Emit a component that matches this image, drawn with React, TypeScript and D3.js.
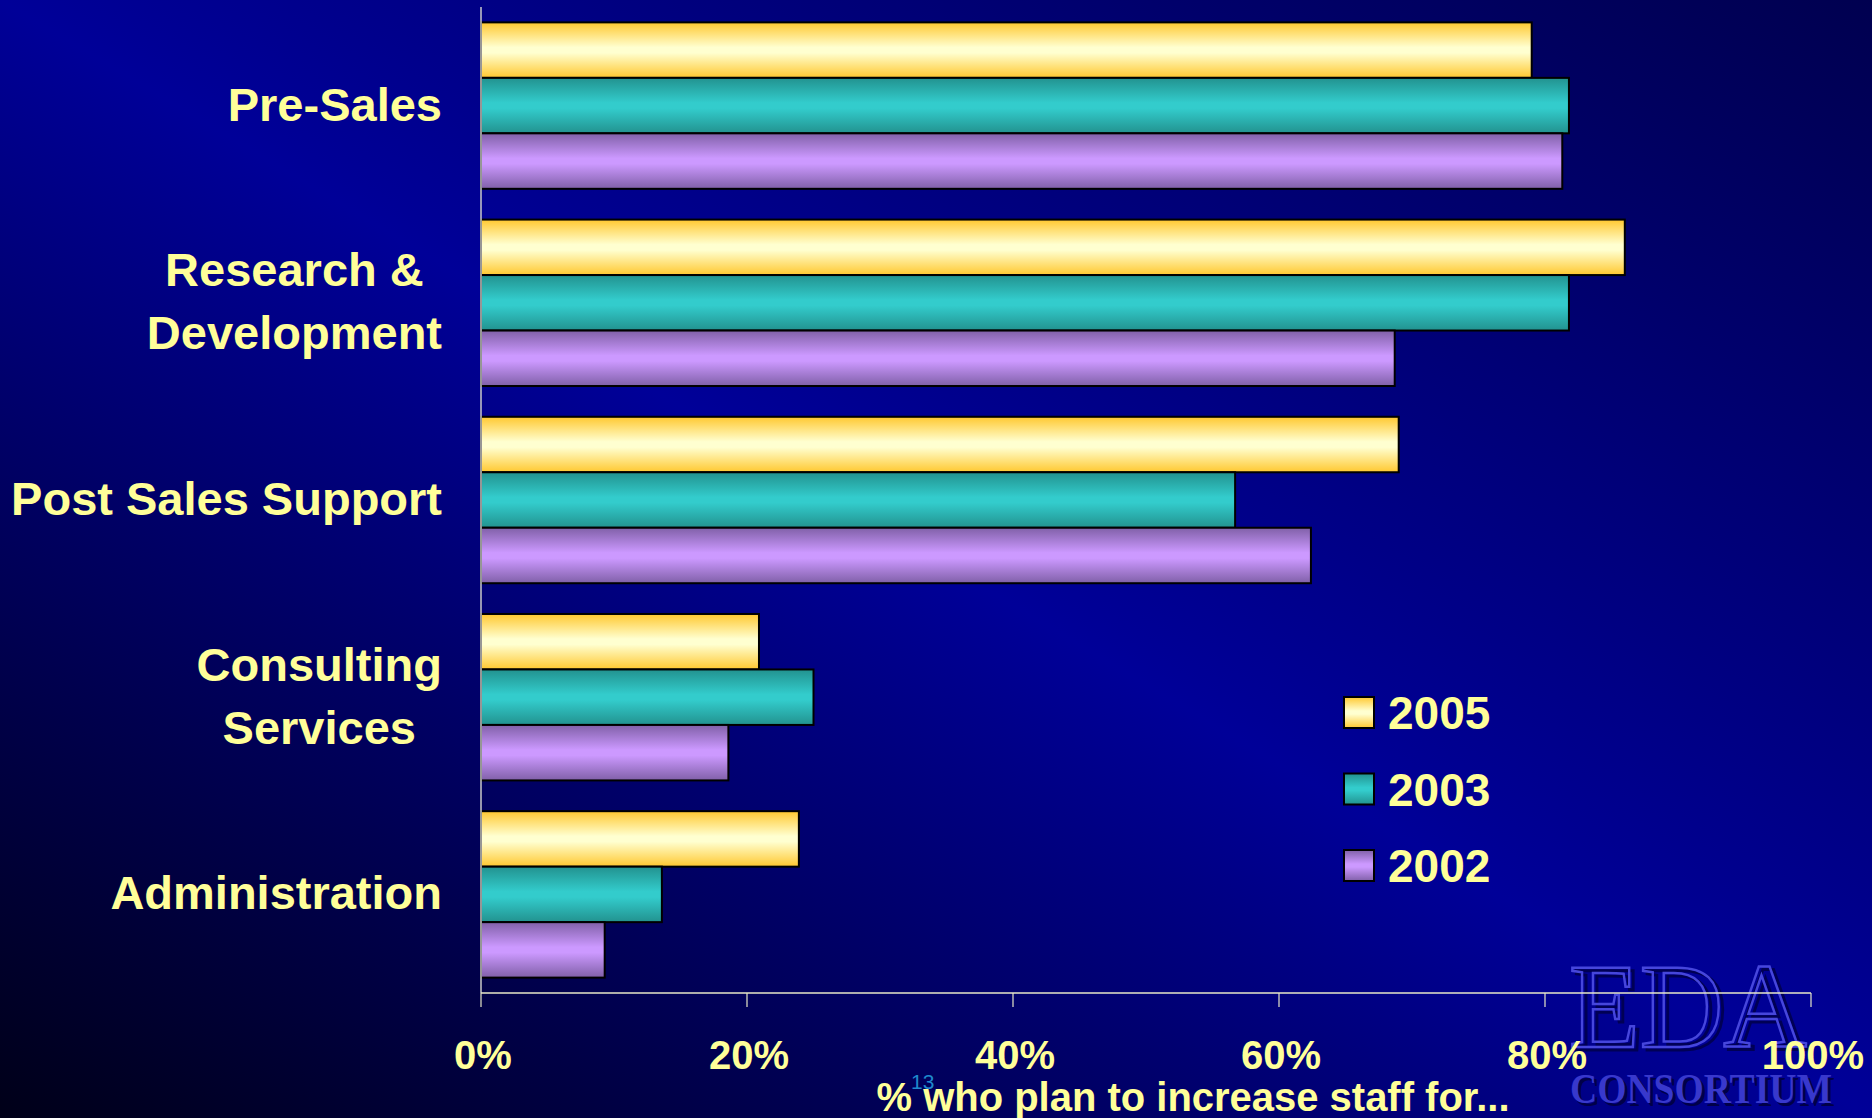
import React from "react";
import * as d3 from "d3";

const categoryLines: string[][] = [
  ["Pre-Sales"],
  ["Research &", "Development"],
  ["Post Sales Support"],
  ["Consulting", "Services"],
  ["Administration"],
];
const categories = categoryLines.map((l) => l.join(" "));
const seriesNames = ["2005", "2003", "2002"];
const values2005 = [79.0, 86.0, 69.0, 20.9, 23.9];
const values2003 = [81.8, 81.8, 56.7, 25.0, 13.6];
const values2002 = [81.3, 68.7, 62.4, 18.6, 9.3];
const seriesValues = [values2005, values2003, values2002];
const xTicks = [0, 20, 40, 60, 80, 100];
const axisTitle = "% who plan to increase staff for...";
const slideNumber = "13";

const W = 1872;
const H = 1118;
const FONT = "'Liberation Sans', Arial, sans-serif";
const SERIF = "'Liberation Serif', 'Times New Roman', serif";
const TEXT = "#FFFF99";

const grads = [
  { id: "g2005", edge: "#FFC830", mid: "#FFFFD0" },
  { id: "g2003", edge: "#22928F", mid: "#33CCCC" },
  { id: "g2002", edge: "#8060A8", mid: "#CC99FF" },
];

let ctx: CanvasRenderingContext2D | null = null;
function measure(text: string, font: string): number {
  if (!ctx) ctx = document.createElement("canvas").getContext("2d");
  if (!ctx) return text.length * 25;
  ctx.font = font;
  return ctx.measureText(text).width;
}

export default function App() {
  const x = d3.scaleLinear().domain([0, 100]).range([481, 1811]);
  const y = d3.scaleBand<string>().domain(categories).range([7, 993]).paddingInner(0.156).paddingOuter(0.078);
  const ys = d3.scaleBand<string>().domain(seriesNames).range([0, y.bandwidth()]);

  const labelRight = 442;
  const labelSize = 47;
  const lineH = 63;

  return (
    <svg width={W} height={H} style={{ position: "absolute", left: 0, top: 0, display: "block" }}>
      <defs>
        <linearGradient id="bg" x1="0" y1="1" x2="1" y2="0">
          <stop offset="0" stopColor="#000018" />
          <stop offset="0.5" stopColor="#000098" />
          <stop offset="1" stopColor="#000050" />
        </linearGradient>
        {grads.map((g) => (
          <linearGradient key={g.id} id={g.id} x1="0" y1="0" x2="0" y2="1">
            <stop offset="0" stopColor={g.edge} />
            <stop offset="0.45" stopColor={g.mid} />
            <stop offset="0.55" stopColor={g.mid} />
            <stop offset="1" stopColor={g.edge} />
          </linearGradient>
        ))}
      </defs>
      <rect x={0} y={0} width={W} height={H} fill="url(#bg)" />

      {/* watermark */}
      <g>
        <text x={1573} y={1050} fontFamily={SERIF} fontSize={120} fill="none" stroke="#000055" strokeWidth={3} textLength={238} lengthAdjust="spacingAndGlyphs">EDA</text>
        <text x={1569} y={1047} fontFamily={SERIF} fontSize={120} fill="none" stroke="#4646dc" strokeWidth={2.5} textLength={238} lengthAdjust="spacingAndGlyphs">EDA</text>
        <text x={1573} y={1106} fontFamily={SERIF} fontWeight="bold" fontSize={42} fill="#000048" textLength={262} lengthAdjust="spacingAndGlyphs">CONSORTIUM</text>
        <text x={1570} y={1103} fontFamily={SERIF} fontWeight="bold" fontSize={42} fill="#3838cc" textLength={262} lengthAdjust="spacingAndGlyphs">CONSORTIUM</text>
      </g>

      {/* bars */}
      {categories.map((c, ci) => (
        <g key={c} transform={`translate(0,${y(c)})`}>
          {seriesNames.map((s, si) => (
            <rect
              key={s}
              x={x(0)}
              y={ys(s)}
              width={x(seriesValues[si][ci]) - x(0)}
              height={ys.bandwidth()}
              fill={`url(#${grads[si].id})`}
              stroke="#000"
              strokeWidth={2}
            />
          ))}
        </g>
      ))}

      {/* axes */}
      <line x1={x(0)} x2={x(0)} y1={7} y2={993} stroke="#c8c8c8" strokeWidth={1.5} />
      <line x1={x(0)} x2={x(100)} y1={993} y2={993} stroke="#e8e8c8" strokeWidth={1.5} />
      {xTicks.map((t) => (
        <g key={t}>
          <line x1={x(t)} x2={x(t)} y1={993} y2={1007} stroke="#e8e8c8" strokeWidth={1.2} />
          <text x={x(t) + 2} y={1069} textAnchor="middle" fontFamily={FONT} fontWeight="bold" fontSize={40} fill={TEXT}>
            {t}%
          </text>
        </g>
      ))}

      {/* category labels */}
      {categoryLines.map((lines, ci) => {
        const font = `bold ${labelSize}px ${FONT}`;
        const maxW = Math.max(...lines.map((l) => measure(l, font)));
        const cx = labelRight - maxW / 2;
        const center = (y(categories[ci]) as number) + y.bandwidth() / 2;
        const first = center - ((lines.length - 1) * lineH) / 2 + 15;
        return (
          <g key={ci}>
            {lines.map((l, li) => (
              <text
                key={li}
                x={lines.length === 1 ? labelRight : cx}
                y={first + li * lineH}
                textAnchor={lines.length === 1 ? "end" : "middle"}
                fontFamily={FONT}
                fontWeight="bold"
                fontSize={labelSize}
                fill={TEXT}
              >
                {l}
              </text>
            ))}
          </g>
        );
      })}

      {/* legend */}
      {seriesNames.map((s, si) => {
        const top = 697 + si * 76.5;
        return (
          <g key={s}>
            <rect x={1344} y={top} width={30} height={31} fill={`url(#${grads[si].id})`} stroke="#000" strokeWidth={2} />
            <text x={1388} y={top + 32} fontFamily={FONT} fontWeight="bold" fontSize={46} fill={TEXT}>
              {s}
            </text>
          </g>
        );
      })}

      {/* slide number and axis title */}
      <text x={911} y={1089} fontFamily={FONT} fontSize={21} fill="#1e88cc">{slideNumber}</text>
      <text x={1193} y={1111} textAnchor="middle" fontFamily={FONT} fontWeight="bold" fontSize={40} fill={TEXT} textLength={633} lengthAdjust="spacingAndGlyphs">
        {axisTitle}
      </text>
    </svg>
  );
}
